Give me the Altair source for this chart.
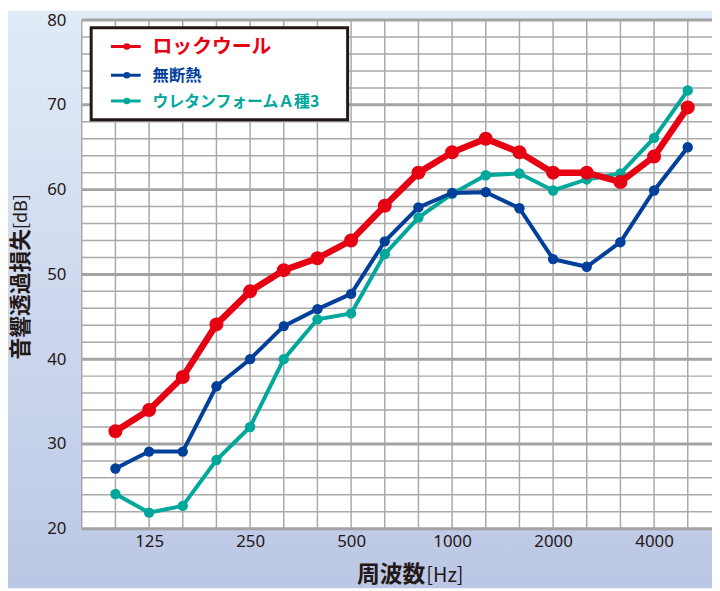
import json
import altair as alt
import pandas as pd

# ---- data ----
freqs = ["100", "125", "160", "200", "250", "315", "400", "500", "630", "800",
         "1000", "1250", "1600", "2000", "2500", "3150", "4000", "5000"]
rockwool = [31.5, 34.0, 37.9, 44.1, 48.0, 50.5, 51.9, 54.0, 58.1, 62.0,
            64.4, 66.0, 64.4, 62.0, 62.0, 60.9, 63.9, 69.7]
no_insul = [27.1, 29.1, 29.1, 36.8, 40.0, 43.9, 45.9, 47.7, 53.9, 57.9,
            59.6, 59.7, 57.8, 51.8, 50.9, 53.8, 59.9, 65.0]
urethane = [24.1, 21.9, 22.7, 28.1, 32.0, 40.0, 44.7, 45.4, 52.4, 56.7,
            59.5, 61.7, 61.9, 59.9, 61.2, 61.9, 66.1, 71.7]
series_names = ["ロックウール", "無断熱", "ウレタンフォームＡ種3"]
tick_freqs = ["125", "250", "500", "1000", "2000", "4000"]
y_ticks = [20, 30, 40, 50, 60, 70, 80]
y_minor = [v for v in range(20, 81, 2) if v % 10]

# ---- styles ----
W, H = 636.5, 513.7
RED, BLUE, TEAL = "#e60012", "#00409a", "#00a79b"
INK = "#231815"
GRID = "#a9a9a9"
FONT = "Noto Sans CJK JP"

tick_idx = [freqs.index(f) for f in tick_freqs]
xs = alt.Scale(domain=[-1, 17.72], nice=False, zero=False)
ys = alt.Scale(domain=[20, 80], nice=False, zero=False)
xaxis = alt.Axis(values=tick_idx, labelExpr=json.dumps(freqs) + "[datum.value]",
                 grid=False, domain=False, ticks=False, labelPadding=5, title=None,
                 labelFontSize=17, labelColor=INK, labelFont="Noto Sans", zindex=1)
yaxis = alt.Axis(values=y_ticks, grid=False, domain=False, ticks=False, labelPadding=16,
                 title=None, labelFontSize=17, labelColor=INK, labelFont="Noto Sans", zindex=1)


def X(field):
    return alt.X(field, type="quantitative", scale=xs, axis=xaxis)


def Y(field):
    return alt.Y(field, type="quantitative", scale=ys, axis=yaxis)


one = alt.Data(values=[{"k": 1}])
PAD_B = 60

bg = alt.Chart(one).mark_rect(
    color=alt.Gradient(gradient="linear",
                       stops=[alt.GradientStop(color="#e0ebf8", offset=0),
                              alt.GradientStop(color="#bcc7e5", offset=1)],
                       x1=0, x2=0, y1=0, y2=1)
).encode(x=alt.value(-74.5), x2=alt.value(W), y=alt.value(-9.3), y2=alt.value(H + PAD_B))

plot_bg = alt.Chart(one).mark_rect(color="white").encode(
    x=alt.value(0), x2=alt.value(W), y=alt.value(0), y2=alt.value(H))

vgrid = alt.Chart(pd.DataFrame({"gx": list(range(-1, 18))})).mark_rule(
    color=GRID, strokeWidth=1.5).encode(x=X("gx"), y=alt.value(0), y2=alt.value(H))
hminor = alt.Chart(pd.DataFrame({"gy": y_minor})).mark_rule(
    color=GRID, strokeWidth=1.5).encode(y=Y("gy"), x=alt.value(0), x2=alt.value(W))
hmajor = alt.Chart(pd.DataFrame({"gy": y_ticks})).mark_rule(
    color="#a3a3a3", strokeWidth=3).encode(y=Y("gy"), x=alt.value(0), x2=alt.value(W))


def series(vals, name, color, sw, size):
    d = pd.DataFrame({"idx": list(range(len(freqs))), "freq": freqs, "db": vals, "s": name})
    return alt.Chart(d).mark_line(
        color=color, strokeWidth=sw,
        point=alt.OverlayMarkDef(color=color, size=size, opacity=1, filled=True)
    ).encode(x=X("idx"), y=Y("db"))


s_teal = series(urethane, series_names[2], TEAL, 4, 110)
s_blue = series(no_insul, series_names[1], BLUE, 4, 110)
s_red = series(rockwool, series_names[0], RED, 6.5, 200)

# ---- legend (drawn) ----
legend_box = alt.Chart(one).mark_rect(fill="white", stroke=INK, strokeWidth=3).encode(
    x=alt.value(9.5), x2=alt.value(268.5), y=alt.value(7.7), y2=alt.value(100.7))
legend_layers = []
rows = [(series_names[0], RED, 20, 26.7), (series_names[1], BLUE, 16.5, 55.7),
        (series_names[2], TEAL, 16, 81.7)]
for name, color, fs, ry in rows:
    legend_layers.append(alt.Chart(one).mark_rule(color=color, strokeWidth=3).encode(
        x=alt.value(29.5), x2=alt.value(59.5), y=alt.value(ry)))
    legend_layers.append(alt.Chart(one).mark_point(color=color, filled=True, opacity=1, size=45).encode(
        x=alt.value(45.5), y=alt.value(ry)))
    legend_layers.append(alt.Chart(one).mark_text(
        text=name, color=color, fontSize=fs, fontWeight="bold", font=FONT,
        align="left", baseline="middle").encode(x=alt.value(71.5), y=alt.value(ry + 1)))

# ---- titles ----
ytitle1 = alt.Chart(one).mark_text(
    text="音響透過損失", fontSize=22, fontWeight="bold", font=FONT, color=INK,
    angle=270, align="right", baseline="middle").encode(x=alt.value(-61), y=alt.value(211))
ytitle2 = alt.Chart(one).mark_text(
    text="[dB]", fontSize=18, font=FONT, color=INK,
    angle=270, align="left", baseline="middle").encode(x=alt.value(-60), y=alt.value(211))
xtitle1 = alt.Chart(one).mark_text(
    text="周波数", fontSize=23, fontWeight="bold", font=FONT, color=INK,
    align="right", baseline="middle").encode(x=alt.value(347), y=alt.value(H + 47))
xtitle2 = alt.Chart(one).mark_text(
    text="[Hz]", fontSize=20, font=FONT, color=INK,
    align="left", baseline="middle").encode(x=alt.value(348), y=alt.value(H + 48))

chart = alt.layer(
    bg, plot_bg, vgrid, hminor, hmajor, s_teal, s_blue, s_red,
    legend_box, *legend_layers, ytitle1, ytitle2, xtitle1, xtitle2
).properties(
    width=W, height=H,
    autosize=alt.AutoSizeParams(type="none"),
    padding={"left": 74.5, "top": 9.3, "right": 0, "bottom": PAD_B},
).configure_view(stroke=None)

chart.save("out.html", embed_options={"renderer": "svg", "actions": False})
